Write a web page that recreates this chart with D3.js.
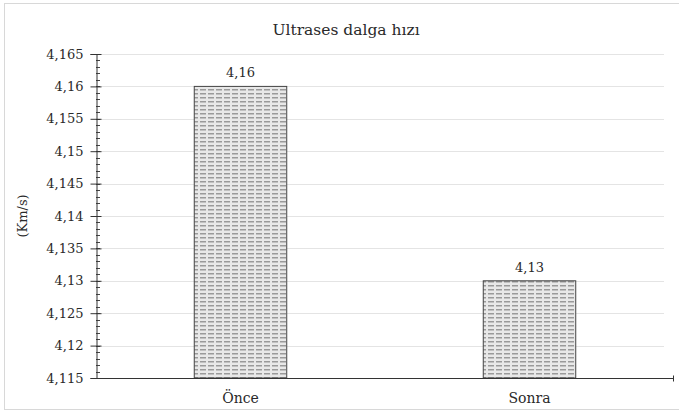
<!DOCTYPE html>
<html>
<head>
<meta charset="utf-8">
<script src="https://cdn.jsdelivr.net/npm/d3@7"></script>
<style>
  html, body { margin: 0; padding: 0; background: #fff; }
</style>
</head>
<body>
<svg id="chart" width="679" height="412"></svg>
<script>
const categories = ["Önce", "Sonra"];
const values = [4.16, 4.13];
const valueLabels = ["4,16", "4,13"];
const yTicks = [4.115, 4.12, 4.125, 4.13, 4.135, 4.14, 4.145, 4.15, 4.155, 4.16, 4.165];
const yTickLabels = ["4,115", "4,12", "4,125", "4,13", "4,135", "4,14", "4,145", "4,15", "4,155", "4,16", "4,165"];
const titleText = "Ultrases dalga hızı";
const yAxisTitle = "(Km/s)";

const svg = d3.select("#chart");
const W = 679, H = 412;
const margin = { left: 96, right: 5, top: 54, bottom: 34 };
const serif = "DejaVu Serif";
const ink = "#2a2a2a";

// outer chart frame
svg.append("rect")
  .attr("x", 4.5).attr("y", 3.5)
  .attr("width", W - 4).attr("height", H - 6)
  .attr("fill", "#fff").attr("stroke", "#d8d8d8");

// dashed fill for the bars
const defs = svg.append("defs");
const pat = defs.append("pattern")
  .attr("id", "dash")
  .attr("patternUnits", "userSpaceOnUse")
  .attr("width", 8).attr("height", 4);
pat.append("rect").attr("width", 8).attr("height", 4).attr("fill", "#e8e8e8");
pat.append("rect").attr("x", 0).attr("y", 1).attr("width", 6).attr("height", 1.5).attr("fill", "#9a9a9a");

const x = d3.scaleBand()
  .domain(categories)
  .range([margin.left, W - margin.right])
  .paddingInner(0.68).paddingOuter(0.34);

const y = d3.scaleLinear()
  .domain([4.115, 4.165])
  .range([H - margin.bottom, margin.top]);

// gridlines
svg.append("g")
  .selectAll("line")
  .data(yTicks.slice(1))
  .join("line")
  .attr("x1", margin.left).attr("x2", 664)
  .attr("y1", d => Math.round(y(d)) + 0.5).attr("y2", d => Math.round(y(d)) + 0.5)
  .attr("stroke", "#e4e4e4").attr("stroke-width", 1);

// bars
svg.append("g")
  .selectAll("rect")
  .data(values)
  .join("rect")
  .attr("x", (d, i) => x(categories[i]))
  .attr("y", d => y(d))
  .attr("width", x.bandwidth())
  .attr("height", d => y(4.115) - y(d))
  .attr("fill", "url(#dash)")
  .attr("stroke", "#444").attr("stroke-width", 1);

// value labels
svg.append("g")
  .selectAll("text")
  .data(values)
  .join("text")
  .attr("x", (d, i) => x(categories[i]) + x.bandwidth() / 2)
  .attr("y", d => y(d) - 9)
  .attr("text-anchor", "middle")
  .attr("font-family", serif)
  .attr("font-size", 13)
  .attr("fill", ink)
  .text((d, i) => valueLabels[i]);

// minor ticks, every 0.001, on the inner side
const minor = d3.range(0, 51).map(i => 4.115 + i * 0.001);
svg.append("g")
  .selectAll("line")
  .data(minor)
  .join("line")
  .attr("x1", margin.left).attr("x2", margin.left + 4)
  .attr("y1", d => Math.round(y(d)) + 0.5).attr("y2", d => Math.round(y(d)) + 0.5)
  .attr("stroke", "#444");

// y axis with major ticks crossing the line
const yAxis = d3.axisLeft(y)
  .tickValues(yTicks)
  .tickFormat((d, i) => yTickLabels[i])
  .tickSize(6)
  .tickPadding(7);
const gy = svg.append("g")
  .attr("transform", `translate(${margin.left + 0.5},0)`)
  .call(yAxis)
  .attr("font-family", serif)
  .attr("font-size", 13);
gy.select(".domain").attr("stroke", "#333");
gy.selectAll(".tick line").attr("stroke", "#333").attr("x2", 5).attr("x1", -6);
gy.selectAll(".tick text").attr("fill", ink);

// x axis
const gx = svg.append("g")
  .attr("transform", `translate(0,${Math.round(y(4.115)) + 0.5})`);
gx.append("line")
  .attr("x1", margin.left).attr("x2", W - margin.right)
  .attr("stroke", "#333");
gx.append("line")
  .attr("x1", W - margin.right - 0.5).attr("x2", W - margin.right - 0.5)
  .attr("y1", -3).attr("y2", 3)
  .attr("stroke", "#333");
gx.selectAll("text")
  .data(categories)
  .join("text")
  .attr("x", d => x(d) + x.bandwidth() / 2)
  .attr("y", 24)
  .attr("text-anchor", "middle")
  .attr("font-family", serif)
  .attr("font-size", 14)
  .attr("fill", ink)
  .text(d => d);

// title
svg.append("text")
  .attr("x", 346).attr("y", 35)
  .attr("text-anchor", "middle")
  .attr("font-family", serif)
  .attr("font-size", 15.5)
  .attr("fill", ink)
  .text(titleText);

// y axis title
svg.append("text")
  .attr("transform", `translate(27,${(margin.top + H - margin.bottom) / 2}) rotate(-90)`)
  .attr("text-anchor", "middle")
  .attr("font-family", serif)
  .attr("font-size", 13)
  .attr("fill", ink)
  .text(yAxisTitle);
</script>
</body>
</html>
